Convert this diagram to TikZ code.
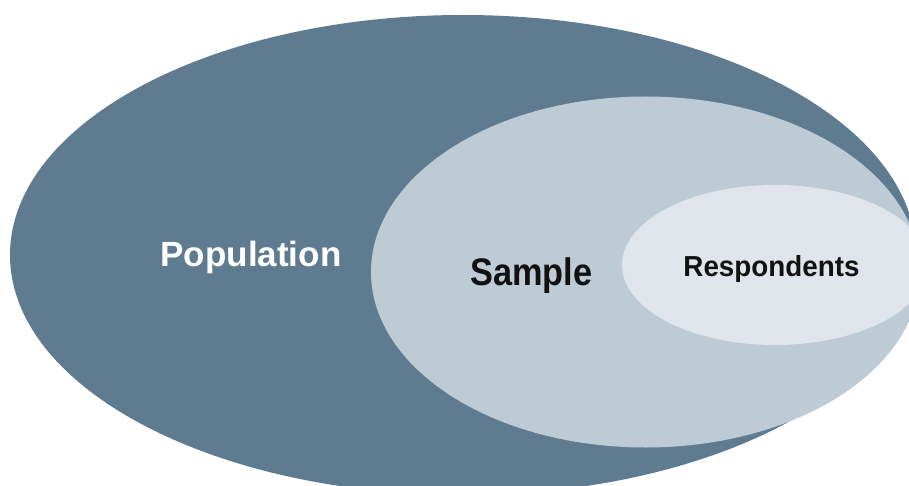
\documentclass[tikz,border=0pt]{standalone}
\usepackage{fontspec}
\setmainfont{Liberation Sans}
\definecolor{popcol}{HTML}{5F7B8F}
\definecolor{samcol}{HTML}{BDCBD5}
\definecolor{rescol}{HTML}{DFE5EA}
\definecolor{inkcol}{HTML}{111111}
\tikzset{
  setshape/.style={draw=none},
  lbl/.style={inner sep=0pt, anchor=base, font=\bfseries}
}
\begin{document}
\begin{tikzpicture}[x=1pt,y=-1pt]
\useasboundingbox (0,0) rectangle (909,486);
\clip (0,0) rectangle (909,486);
\fill[popcol, setshape] (463,255) ellipse [x radius=453, y radius=240];
\fill[samcol, setshape] (645.5,272) ellipse [x radius=274.5, y radius=175.5];
\fill[rescol, setshape] (775,265) ellipse [x radius=153, y radius=80];
\node[lbl, text=white, font=\bfseries\fontsize{35}{40}\selectfont] (pop) at (251,266) {Population};
\node[lbl, text=inkcol, font=\bfseries\fontsize{34.3}{40}\selectfont] (sam) at (531.5,285) {\scalebox{1}[1.12]{Sample}};
\node[lbl, text=inkcol, font=\bfseries\fontsize{27.8}{32}\selectfont] (res) at (771.5,276) {\scalebox{1}[1.04]{Respondents}};
\end{tikzpicture}
\end{document}
